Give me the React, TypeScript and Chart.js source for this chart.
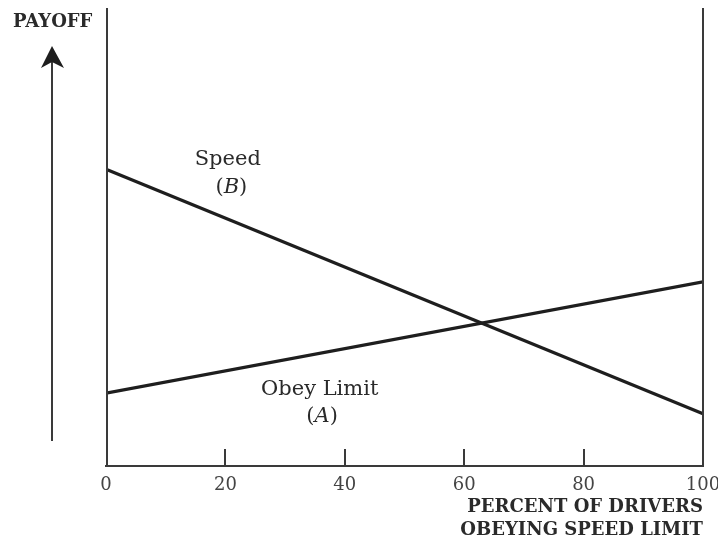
import React, { useEffect, useRef } from "react";
import { Chart, registerables } from "chart.js";

Chart.register(...registerables);

const xTicks = [0, 20, 40, 60, 80, 100];
const xPercent = [0, 100];
const speedPayoff = [64.8, 11.4];
const obeyPayoff = [15.9, 40.2];
const axisTitle = ["PERCENT OF DRIVERS", "OBEYING SPEED LIMIT"];
const yLabel = "PAYOFF";

const SERIF = "'DejaVu Serif', 'Liberation Serif', serif";
const INK = "#1e1e1e";
const FRAME = "#3a3a3a";

function drawLabel(ctx: CanvasRenderingContext2D, cx: number, cy: number, parts: { t: string; italic?: boolean }[], size: number) {
  let total = 0;
  const widths: number[] = [];
  for (const p of parts) {
    ctx.font = `${p.italic ? "italic " : ""}${size}px ${SERIF}`;
    const w = ctx.measureText(p.t).width;
    widths.push(w);
    total += w;
  }
  let x = cx - total / 2;
  parts.forEach((p, i) => {
    ctx.font = `${p.italic ? "italic " : ""}${size}px ${SERIF}`;
    ctx.textAlign = "left";
    ctx.textBaseline = "middle";
    ctx.fillText(p.t, x, cy);
    x += widths[i];
  });
}

const decor = {
  id: "decor",
  afterDatasetsDraw(chart: any) {
    const { ctx, chartArea, scales } = chart;
    const xs = scales.x;
    const ys = scales.y;
    ctx.save();
    // frame vertical lines
    ctx.strokeStyle = FRAME;
    ctx.lineWidth = 2;
    ctx.beginPath();
    ctx.moveTo(chartArea.left + 1, chartArea.top);
    ctx.lineTo(chartArea.left + 1, chartArea.bottom);
    ctx.moveTo(chartArea.right, chartArea.top);
    ctx.lineTo(chartArea.right, chartArea.bottom);
    ctx.stroke();
    // inward tick marks
    ctx.beginPath();
    for (const v of xTicks) {
      const px = Math.round(xs.getPixelForValue(v)) + (v === 0 ? 1 : 0);
      ctx.moveTo(px, chartArea.bottom);
      ctx.lineTo(px, chartArea.bottom - 17);
    }
    ctx.stroke();
    // series labels
    ctx.fillStyle = "#2a2a2a";
    drawLabel(ctx, xs.getPixelForValue(20.4), ys.getPixelForValue(67), [{ t: "Speed" }], 21);
    drawLabel(ctx, xs.getPixelForValue(21), ys.getPixelForValue(60.9), [{ t: "(" }, { t: "B", italic: true }, { t: ")" }], 21);
    drawLabel(ctx, xs.getPixelForValue(35.8), ys.getPixelForValue(16.8), [{ t: "Obey Limit" }], 21);
    drawLabel(ctx, xs.getPixelForValue(36.2), ys.getPixelForValue(10.7), [{ t: "(" }, { t: "A", italic: true }, { t: ")" }], 21);
    // PAYOFF label
    ctx.font = `bold 18px ${SERIF}`;
    ctx.textAlign = "left";
    ctx.textBaseline = "middle";
    ctx.fillStyle = "#2a2a2a";
    ctx.fillText(yLabel, 13, 22);
    // arrow
    ctx.strokeStyle = FRAME;
    ctx.lineWidth = 2;
    ctx.beginPath();
    ctx.moveTo(52, 62);
    ctx.lineTo(52, 441);
    ctx.stroke();
    ctx.fillStyle = "#1e1e1e";
    ctx.beginPath();
    ctx.moveTo(52, 46);
    ctx.lineTo(64, 68);
    ctx.lineTo(52, 62);
    ctx.lineTo(41, 68);
    ctx.closePath();
    ctx.fill();
    ctx.restore();
  },
};

export default function App() {
  const ref = useRef<HTMLCanvasElement>(null);
  useEffect(() => {
    if (!ref.current) return;
    const chart = new Chart(ref.current, {
      type: "line",
      data: {
        datasets: [
          {
            label: "Speed (B)",
            data: xPercent.map((x, i) => ({ x, y: speedPayoff[i] })),
            borderColor: INK,
            borderWidth: 3.2,
            pointRadius: 0,
            tension: 0,
          },
          {
            label: "Obey Limit (A)",
            data: xPercent.map((x, i) => ({ x, y: obeyPayoff[i] })),
            borderColor: INK,
            borderWidth: 3.2,
            pointRadius: 0,
            tension: 0,
          },
        ],
      },
      options: {
        responsive: false,
        animation: false,
        devicePixelRatio: 1,
        layout: { padding: { left: 106, right: 15, top: 8, bottom: 0 } },
        plugins: { legend: { display: false }, tooltip: { enabled: false } },
        scales: {
          x: {
            type: "linear",
            min: 0,
            max: 100,
            afterBuildTicks: (s: any) => {
              s.ticks = xTicks.map((v) => ({ value: v }));
            },
            afterFit: (s: any) => {
              s.height = 82;
              s.paddingLeft = 0;
              s.paddingRight = 0;
            },
            ticks: {
              font: { family: SERIF, size: 18 },
              color: "#444",
              padding: 9,
              maxRotation: 0,
            },
            grid: { display: false, drawTicks: false },
            border: { display: true, color: FRAME, width: 2 },
            title: {
              display: true,
              text: axisTitle,
              align: "end",
              color: "#2a2a2a",
              font: { family: SERIF, size: 18, weight: "bold", lineHeight: 23 / 18 },
              padding: { top: 0, bottom: 6 },
            },
          },
          y: { display: false, min: 0, max: 100 },
        },
      },
      plugins: [decor],
    } as any);
    return () => chart.destroy();
  }, []);
  return (
    <div style={{ position: "fixed", left: 0, top: 0, width: 718, height: 548, background: "#fff" }}>
      <canvas ref={ref} width={718} height={548} style={{ display: "block" }} />
    </div>
  );
}
